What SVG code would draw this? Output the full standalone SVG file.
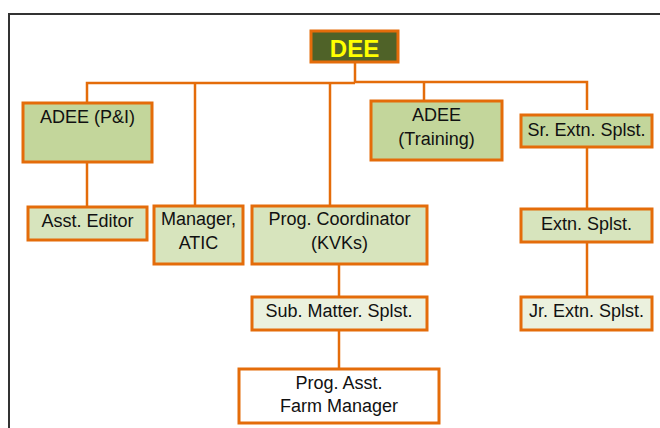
<svg xmlns="http://www.w3.org/2000/svg" width="660" height="428" viewBox="0 0 660 428">
  <style>
    .box { stroke: #E46C0A; stroke-width: 3; }
    .l1 { fill: #C3D69B; }
    .l2 { fill: #D7E4BD; }
    .l3 { fill: #EBF1DE; }
    .l4 { fill: #FFFFFF; }
    .lbl { font-family: "Liberation Sans", Arial, sans-serif; font-size: 18px; fill: #111; text-anchor: middle; }
    .conn { fill: none; stroke: #E46C0A; stroke-width: 2.5; }
  </style>
  <rect width="660" height="428" fill="#FFFFFF"/>
  <!-- outer frame -->
  <rect x="9" y="14" width="700" height="500" fill="none" stroke="#333333" stroke-width="2"/>

  <g id="connectors">
    <path class="conn" d="M355,62 V82 H587 V110"/>
    <path class="conn" d="M87,103 V83 H355"/>
    <path class="conn" d="M195,82 V206"/>
    <path class="conn" d="M330,82 V206"/>
    <path class="conn" d="M424,82 V101"/>
    <path class="conn" d="M87,162 V207"/>
    <path class="conn" d="M587,147 V209"/>
    <path class="conn" d="M587,242 V297"/>
    <path class="conn" d="M339,264 V297"/>
    <path class="conn" d="M339,330 V369"/>
  </g>

  <g id="dee">
    <rect class="box" x="311" y="31" width="87" height="31" fill="#4F6228"/>
    <text x="354.5" y="57" font-family="Liberation Sans, Arial, sans-serif" font-size="24" font-weight="bold" fill="#FFFF00" text-anchor="middle">DEE</text>
  </g>

  <g id="adee-pi">
    <rect class="box l1" x="23" y="103" width="129" height="59"/>
    <text class="lbl" x="87.5" y="123">ADEE (P&amp;I)</text>
  </g>

  <g id="asst-editor">
    <rect class="box l2" x="28" y="207" width="119" height="33"/>
    <text class="lbl" x="87.5" y="227">Asst. Editor</text>
  </g>

  <g id="manager-atic">
    <rect class="box l2" x="154" y="206" width="89" height="58"/>
    <text class="lbl" x="198.5" y="225">Manager,</text>
    <text class="lbl" x="198.5" y="249">ATIC</text>
  </g>

  <g id="prog-coordinator">
    <rect class="box l2" x="252" y="206" width="175" height="58"/>
    <text class="lbl" x="339.5" y="225">Prog. Coordinator</text>
    <text class="lbl" x="339.5" y="249">(KVKs)</text>
  </g>

  <g id="adee-training">
    <rect class="box l1" x="371" y="101" width="131" height="59"/>
    <text class="lbl" x="436.5" y="121">ADEE</text>
    <text class="lbl" x="436.5" y="145">(Training)</text>
  </g>

  <g id="sr-extn">
    <rect class="box l1" x="521" y="115" width="131" height="32"/>
    <text class="lbl" x="586.5" y="136">Sr. Extn. Splst.</text>
  </g>

  <g id="extn">
    <rect class="box l2" x="521" y="209" width="131" height="33"/>
    <text class="lbl" x="586.5" y="230">Extn. Splst.</text>
  </g>

  <g id="jr-extn">
    <rect class="box l3" x="521" y="297" width="131" height="33"/>
    <text class="lbl" x="586.5" y="317">Jr. Extn. Splst.</text>
  </g>

  <g id="sub-matter">
    <rect class="box l3" x="252" y="297" width="175" height="33"/>
    <text class="lbl" x="339" y="317">Sub. Matter. Splst.</text>
  </g>

  <g id="prog-asst">
    <rect class="box l4" x="239" y="369" width="200" height="54"/>
    <text class="lbl" x="339" y="389">Prog. Asst.</text>
    <text class="lbl" x="339" y="412">Farm Manager</text>
  </g>
</svg>
